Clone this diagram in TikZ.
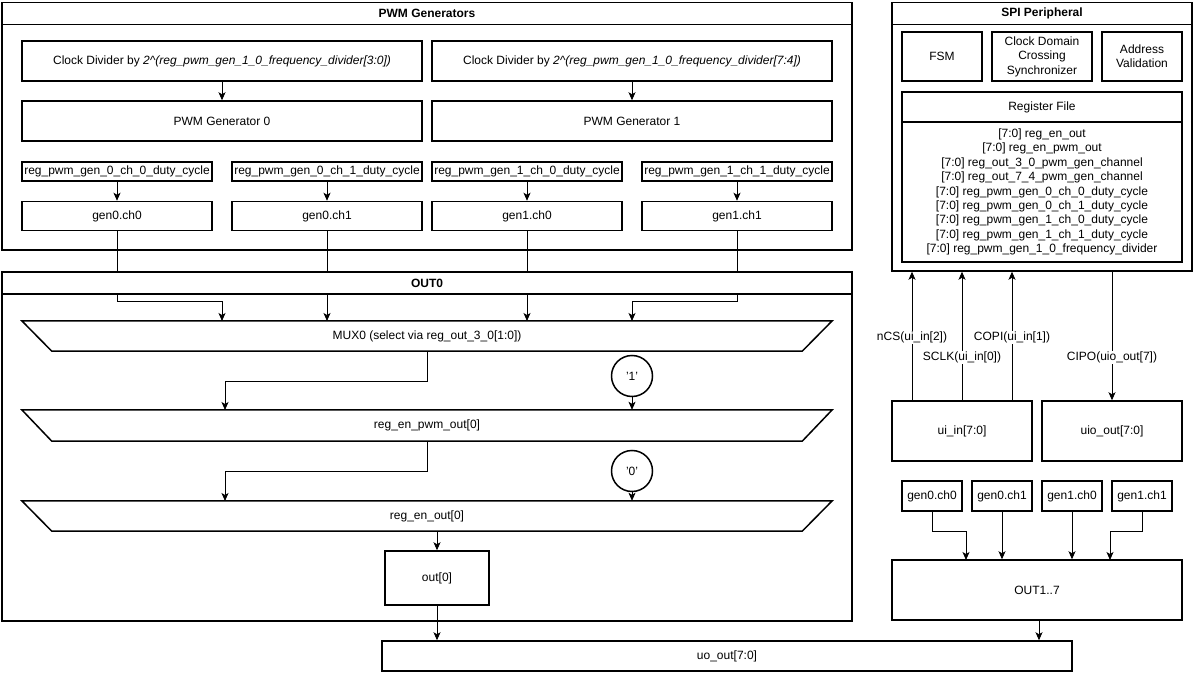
\documentclass[tikz,border=0pt]{standalone}
\usepackage{fontspec}
\setmainfont{Liberation Sans}
\usetikzlibrary{arrows.meta,calc}
\begin{document}
\begin{tikzpicture}[x=1pt,y=-1pt,
  every node/.style={font=\fontsize{12}{14.4}\selectfont, inner sep=0pt},
  box/.style={draw, line width=1.5pt, fill=white, align=center},
  hdr/.style={box, font=\fontsize{12}{14.4}\selectfont\bfseries},
  plain/.style={align=center},
  trap/.style={minimum width=810pt, minimum height=30pt},
  trapline/.style={line width=1.5pt, line join=miter},
  arr/.style={line width=0.8pt, -{Stealth[length=8pt,width=7pt,inset=2pt]}},
  wire/.style={line width=0.8pt},
  lbl/.style={fill=white, inner sep=1pt}
]
\useasboundingbox (0,0) rectangle (1195,674);

% ---------------- PWM Generators ----------------
\node[box, minimum width=850pt, minimum height=226pt] (pwmb) at (427,137) {};
\node[hdr, minimum width=850pt, minimum height=22pt] (pwmh) at (427,13.5) {PWM Generators};

\node[box, minimum width=400pt, minimum height=40pt] (cd0) at (222,61) {Clock Divider by \textit{2\textasciicircum(reg\_pwm\_gen\_1\_0\_frequency\_divider[3:0])}};
\node[box, minimum width=400pt, minimum height=40pt] (cd1) at (632,61) {Clock Divider by \textit{2\textasciicircum(reg\_pwm\_gen\_1\_0\_frequency\_divider[7:4])}};
\node[box, minimum width=400pt, minimum height=40pt] (pg0) at (222,121) {PWM Generator 0};
\node[box, minimum width=400pt, minimum height=40pt] (pg1) at (632,121) {PWM Generator 1};

\node[box, minimum width=190pt, minimum height=19pt] (r00) at (117,171.5) {reg\_pwm\_gen\_0\_ch\_0\_duty\_cycle};
\node[box, minimum width=190pt, minimum height=19pt] (r01) at (327,171.5) {reg\_pwm\_gen\_0\_ch\_1\_duty\_cycle};
\node[box, minimum width=190pt, minimum height=19pt] (r10) at (527,171.5) {reg\_pwm\_gen\_1\_ch\_0\_duty\_cycle};
\node[box, minimum width=190pt, minimum height=19pt] (r11) at (737,171.5) {reg\_pwm\_gen\_1\_ch\_1\_duty\_cycle};

\node[box, minimum width=190pt, minimum height=29pt] (g00) at (117,216) {gen0.ch0};
\node[box, minimum width=190pt, minimum height=29pt] (g01) at (327,216) {gen0.ch1};
\node[box, minimum width=190pt, minimum height=29pt] (g10) at (527,216) {gen1.ch0};
\node[box, minimum width=190pt, minimum height=29pt] (g11) at (737,216) {gen1.ch1};

\draw[arr] (cd0) -- (pg0);
\draw[arr] (cd1) -- (pg1);
\draw[arr] (r00) -- (g00);
\draw[arr] (r01) -- (g01);
\draw[arr] (r10) -- (g10);
\draw[arr] (r11) -- (g11);

% ---------------- OUT0 ----------------
\node[draw, line width=1.5pt, minimum width=850pt, minimum height=327pt] (outb) at (427,457.5) {};

\node[trap] (mux) at (427,336) {MUX0 (select via reg\_out\_3\_0[1:0])};
\draw[trapline] (mux.north west) -- (mux.north east) -- ([xshift=-30pt]mux.south east) -- ([xshift=30pt]mux.south west) -- cycle;
\node[trap, minimum height=31pt] (enp) at (427,425.5) {reg\_en\_pwm\_out[0]};
\draw[trapline] (enp.north west) -- (enp.north east) -- ([xshift=-30pt]enp.south east) -- ([xshift=30pt]enp.south west) -- cycle;
\node[trap] (en) at (427,516) {reg\_en\_out[0]};
\draw[trapline] (en.north west) -- (en.north east) -- ([xshift=-30pt]en.south east) -- ([xshift=30pt]en.south west) -- cycle;

\node[draw, circle, line width=1.5pt, minimum size=41pt] (c1) at (632,376) {'1'};
\node[draw, circle, line width=1.5pt, minimum size=41pt] (c0) at (632,471) {'0'};

\node[box, minimum width=104pt, minimum height=54pt] (o0) at (437,578) {out[0]};
\node[box, minimum width=690pt, minimum height=30pt] (uo) at (727,656) {uo\_out[7:0]};

\coordinate (m1) at (222,321);
\coordinate (m2) at (327,321);
\coordinate (m3) at (527,321);
\coordinate (m4) at (632,321);
\draw[arr] (g00.south) |- ($(m1)+(0,-20)$) -- (m1);
\draw[arr] (g01.south) -- (m2);
\draw[arr] (g10.south) -- (m3);
\draw[arr] (g11.south) |- ($(m4)+(0,-20)$) -- (m4);

\node[hdr, minimum width=850pt, minimum height=22pt] (outh) at (427,283) {OUT0};

\coordinate (e1) at (225,410);
\coordinate (e2) at (225,501);
\draw[arr] (mux.south) |- ($(e1)+(0,-29)$) -- (e1);
\draw[arr] (c1.south) -- (c1.south |- enp.north);
\draw[arr] (enp.south) |- ($(e2)+(0,-30)$) -- (e2);
\draw[arr] (c0.south) -- (c0.south |- en.north);
\draw[arr] ([xshift=10pt]en.south) -- (o0.north);
\draw[arr] (o0.south) -- (o0.south |- uo.north);

% ---------------- SPI Peripheral ----------------
\node[box, minimum width=300pt, minimum height=247pt] (spib) at (1042,147.5) {};
\node[hdr, minimum width=300pt, minimum height=22pt] (spih) at (1042,13.5) {SPI Peripheral};
\node[box, minimum width=80pt, minimum height=49pt] (fsm) at (942,56.5) {FSM};
\node[box, minimum width=100pt, minimum height=49pt] (cdc) at (1042,56.5) {Clock Domain\\Crossing\\Synchronizer};
\node[box, minimum width=80pt, minimum height=49pt] (addr) at (1142,56.5) {Address\\Validation};
\node[box, minimum width=280pt, minimum height=140pt] (rfb) at (1042,192) {{[7:0]} reg\_en\_out\\{}%
{[7:0]} reg\_en\_pwm\_out\\{}%
{[7:0]} reg\_out\_3\_0\_pwm\_gen\_channel\\{}%
{[7:0]} reg\_out\_7\_4\_pwm\_gen\_channel\\{}%
{[7:0]} reg\_pwm\_gen\_0\_ch\_0\_duty\_cycle\\{}%
{[7:0]} reg\_pwm\_gen\_0\_ch\_1\_duty\_cycle\\{}%
{[7:0]} reg\_pwm\_gen\_1\_ch\_0\_duty\_cycle\\{}%
{[7:0]} reg\_pwm\_gen\_1\_ch\_1\_duty\_cycle\\{}%
{[7:0]} reg\_pwm\_gen\_1\_0\_frequency\_divider};
\node[box, minimum width=280pt, minimum height=30pt] (rfh) at (1042,107) {Register File};

\node[box, minimum width=140pt, minimum height=60pt] (ui) at (962,431) {ui\_in[7:0]};
\node[box, minimum width=140pt, minimum height=60pt] (uio) at (1112,431) {uio\_out[7:0]};

\draw[arr] ([xshift=-50pt]ui.north) -- ([xshift=-50pt]ui.north |- spib.south)
  node[lbl, pos=0.49] {nCS(ui\_in[2])};
\draw[arr] (ui.north) -- (ui.north |- spib.south)
  node[lbl, pos=0.33] {SCLK(ui\_in[0])};
\draw[arr] ([xshift=50pt]ui.north) -- ([xshift=50pt]ui.north |- spib.south)
  node[lbl, pos=0.49] {COPI(ui\_in[1])};
\draw[arr] (uio.north |- spib.south) -- (uio.north)
  node[lbl, pos=0.67] {CIPO(uio\_out[7])};

\node[box, minimum width=60pt, minimum height=30pt] (s00) at (932,496) {gen0.ch0};
\node[box, minimum width=60pt, minimum height=30pt] (s01) at (1002,496) {gen0.ch1};
\node[box, minimum width=60pt, minimum height=30pt] (s10) at (1072,496) {gen1.ch0};
\node[box, minimum width=60pt, minimum height=30pt] (s11) at (1142,496) {gen1.ch1};
\node[box, minimum width=290pt, minimum height=60pt] (o17) at (1037,590) {OUT1..7};

\coordinate (n1) at (966,560);
\coordinate (n4) at (1110,560);
\draw[arr] (s00.south) |- ($(n1)+(0,-29)$) -- (n1);
\draw[arr] (s01.south) -- (s01.south |- o17.north);
\draw[arr] (s10.south) -- (s10.south |- o17.north);
\draw[arr] (s11.south) |- ($(n4)+(0,-29)$) -- (n4);
\draw[arr] ([xshift=2pt]o17.south) -- ([xshift=2pt]o17.south |- uo.north);
\end{tikzpicture}
\end{document}
